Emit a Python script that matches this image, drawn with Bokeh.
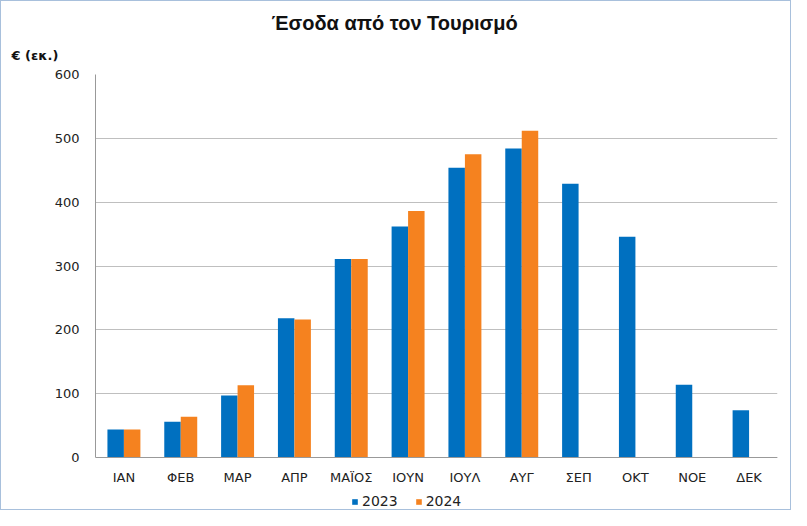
from bokeh.plotting import figure
from bokeh.models import ColumnDataSource, FactorRange, Title, Legend, LegendItem, Range1d, SingleIntervalTicker
from bokeh.transform import dodge
from bokeh.embed import file_html
from bokeh.resources import INLINE

months = ["ΙΑΝ", "ΦΕΒ", "ΜΑΡ", "ΑΠΡ", "ΜΑΪΟΣ", "ΙΟΥΝ", "ΙΟΥΛ", "ΑΥΓ", "ΣΕΠ", "ΟΚΤ", "ΝΟΕ", "ΔΕΚ"]
y2023 = [44, 56, 97, 218, 311, 362, 454, 484, 429, 346, 114, 74]
y2024 = [44, 64, 113, 216, 311, 386, 475, 512, float("nan"), float("nan"), float("nan"), float("nan")]
series = ["2023", "2024"]
colors = ["#0070C0", "#F5821F"]
y_max = 600

src = ColumnDataSource(dict(month=months, y2023=y2023, y2024=y2024))

W, H = 791, 510
TOP, ZERO_PX = 73, 456          # pixel rows of the 600 line and of the 0 line
px_per_unit = (ZERO_PX - TOP) / y_max
y_start = -(H - ZERO_PX) / px_per_unit   # frame extends below 0 to hold labels and legend

p = figure(width=W, height=H, x_range=FactorRange(*months, range_padding=0),
           y_range=Range1d(y_start, y_max), output_backend="svg", toolbar_location=None,
           min_border_left=94, min_border_right=15, min_border_top=TOP, min_border_bottom=0)
p.styles = {"border": "1px solid #A8C0DC"}
p.outline_line_color = None
p.background_fill_color = "white"
p.border_fill_color = "white"

r1 = p.vbar(x=dodge("month", -0.145, range=p.x_range), top="y2023", width=0.29, source=src,
            fill_color=colors[0], line_color=None)
r2 = p.vbar(x=dodge("month", 0.145, range=p.x_range), top="y2024", width=0.29, source=src,
            fill_color=colors[1], line_color=None)

p.xgrid.grid_line_color = None
p.ygrid.grid_line_color = "#BFBFBF"
p.ygrid.grid_line_width = 1
p.yaxis.ticker = SingleIntervalTicker(interval=100)
p.yaxis.bounds = (0, y_max)
p.xaxis.fixed_location = 0

for ax in (p.xaxis, p.yaxis):
    ax.axis_line_color = "#999999"
    ax.major_tick_line_color = None
    ax.minor_tick_line_color = None
    ax.major_tick_out = 0
    ax.major_tick_in = 0
    ax.minor_tick_out = 0
    ax.major_label_text_font = "DejaVu Sans"
    ax.major_label_text_font_size = "13px"
    ax.major_label_text_color = "#222222"
p.yaxis.major_label_standoff = 16
p.xaxis.major_label_standoff = 12

p.add_layout(Title(text="€ (εκ.)", align="left", offset=-84, standoff=24,
                   text_font="DejaVu Sans", text_font_style="bold", text_font_size="13px",
                   text_color="#111111"), "above")
p.add_layout(Title(text="Έσοδα από τον Τουρισμό", align="left", offset=176, standoff=0,
                   text_font="Liberation Sans", text_font_style="bold", text_font_size="20px",
                   text_color="#111111"), "above")

legend = Legend(items=[LegendItem(label=series[0], renderers=[r1]), LegendItem(label=series[1], renderers=[r2])],
                orientation="horizontal", location=(256, 2), padding=0, margin=0, spacing=17,
                glyph_width=7, glyph_height=7, label_standoff=4, label_height=16,
                label_text_font="DejaVu Sans", label_text_font_size="14px", label_text_color="#222222",
                border_line_color=None, background_fill_alpha=0)
p.add_layout(legend)

open("out.html", "w").write(file_html(p, INLINE))
